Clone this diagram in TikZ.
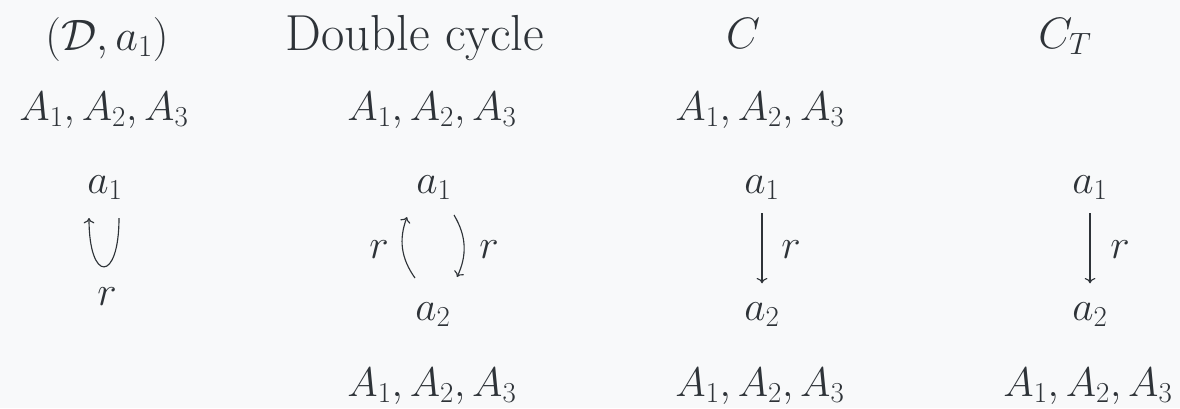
\RequirePackage{fix-cm}
\documentclass[tikz,border=0pt]{standalone}
\usetikzlibrary{arrows.meta}
\definecolor{bg}{HTML}{F8F9FA}
\definecolor{ink}{HTML}{2E3338}
\begin{document}
\begin{tikzpicture}[x=0.75pt,y=-0.75pt,
  every node/.style={inner sep=0pt, text=ink},
  lbl/.style={anchor=base, font=\fontsize{31}{37}\selectfont},
  hdr/.style={anchor=base, font=\fontsize{38}{44}\selectfont},
  hdm/.style={anchor=base, font=\fontsize{33}{40}\selectfont},
  arr/.style={draw=ink, line width=0.85pt, -{Computer Modern Rightarrow[length=4pt,width=8pt]}},
  vshort/.style={shorten <=10.5pt, shorten >=14pt}]
\fill[bg] (0,0) rectangle (1180,408);
\useasboundingbox (0,0) rectangle (1180,408);
% column 1
\node[hdm] (h1) at (107,50) {$(\mathcal{D},a_1)$};
\node[lbl] (t1) at (104,120) {$A_1,A_2,A_3$};
\node[lbl] (p1) at (105,193) {$a_1$};
\node[lbl] (r1) at (107,305) {$r$};
\coordinate (l1s) at (119,218);
\coordinate (l1e) at (89,218);
\draw[arr] (l1s) .. controls (119,283) and (89,283) .. (l1e);
% column 2
\node[hdr] (h2) at (415,50) {Double cycle};
\node[lbl] (t2) at (432,120) {$A_1,A_2,A_3$};
\node[lbl] (p2a) at (434,193) {$a_1$};
\node[lbl] (p2b) at (433,320) {$a_2$};
\node[lbl] (b2) at (432,396) {$A_1,A_2,A_3$};
\coordinate (d1s) at (415,278);
\coordinate (d1e) at (407,217);
\coordinate (d2s) at (454,215);
\coordinate (d2e) at (457,277);
\draw[arr] (d1s) to[bend left=28] (d1e);
\draw[arr] (d2s) to[bend left=28] (d2e);
\node[lbl] (r2a) at (379,258) {$r$};
\node[lbl] (r2b) at (489,258) {$r$};
% column 3
\node[hdm] (h3) at (743,48) {$C$};
\node[lbl] (t3) at (760,120) {$A_1,A_2,A_3$};
\node[lbl] (p3a) at (762,193) {$a_1$};
\node[lbl] (p3b) at (762,320) {$a_2$};
\node[lbl] (b3) at (760,396) {$A_1,A_2,A_3$};
\draw[arr,vshort] (p3a) -- (p3b);
\node[lbl] (r3) at (791,258) {$r$};
% column 4
\node[hdm] (h4) at (1065,48) {$C_T$};
\node[lbl] (p4a) at (1090,193) {$a_1$};
\node[lbl] (p4b) at (1090,320) {$a_2$};
\node[lbl] (b4) at (1088,396) {$A_1,A_2,A_3$};
\draw[arr,vshort] (p4a) -- (p4b);
\node[lbl] (r4) at (1120,258) {$r$};
\end{tikzpicture}
\end{document}
